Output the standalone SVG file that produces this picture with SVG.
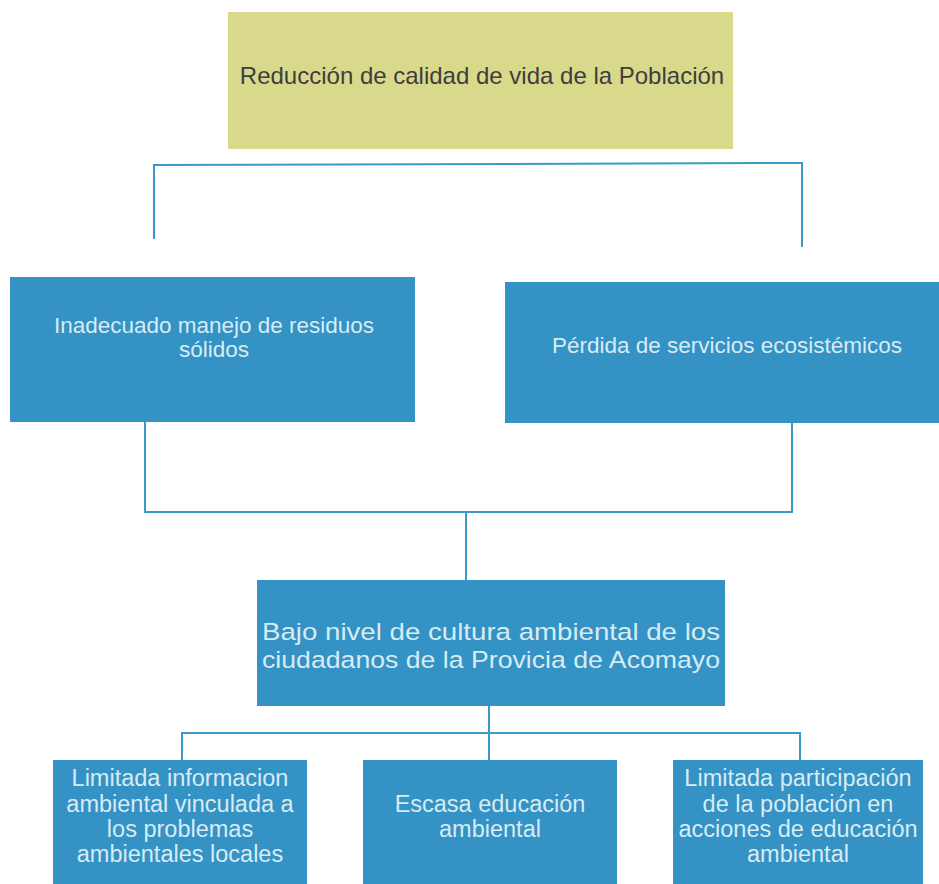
<svg xmlns="http://www.w3.org/2000/svg" width="939" height="884" viewBox="0 0 939 884">
<style>
.box{fill:#3592c4}
.top{fill:#d9d98c}
.lt{font-family:"Liberation Sans",Arial,sans-serif;fill:#d6ecf4;text-anchor:middle}
.dk{font-family:"Liberation Sans",Arial,sans-serif;fill:#3e3e3e;text-anchor:middle}
.con{stroke:#3a9bcb;stroke-width:2;fill:none}
</style>
<rect width="939" height="884" fill="#ffffff"/>
<g id="connectors">
<polyline class="con" points="154,239 154,165 802,163 802,247"/>
<polyline class="con" points="145,422 145,512 792,512 792,423"/>
<line class="con" x1="466" y1="512" x2="466" y2="580"/>
<line class="con" x1="489" y1="706" x2="489" y2="760"/>
<polyline class="con" points="182,760 182,733 800,733 800,760"/>
</g>
<g id="n-top">
<rect class="top" x="228" y="12" width="505" height="137"/>
<text class="dk" x="482" y="84" font-size="24">Reducción de calidad de vida de la Población</text>
</g>
<g id="n-residuos">
<rect class="box" x="10" y="277" width="405" height="145"/>
<text class="lt" x="214" y="333" font-size="22.5">Inadecuado manejo de residuos</text>
<text class="lt" x="214" y="357" font-size="22.5">sólidos</text>
</g>
<g id="n-servicios">
<rect class="box" x="505" y="282" width="450" height="141"/>
<text class="lt" x="727" y="353" font-size="22.5">Pérdida de servicios ecosistémicos</text>
</g>
<g id="n-bajo">
<rect class="box" x="257" y="580" width="468" height="126"/>
<text class="lt" x="491" y="640" font-size="24.5" textLength="458" lengthAdjust="spacingAndGlyphs">Bajo nivel de cultura ambiental de los</text>
<text class="lt" x="491" y="668" font-size="24.5" textLength="458" lengthAdjust="spacingAndGlyphs">ciudadanos de la Provicia de Acomayo</text>
</g>
<g id="n-info">
<rect class="box" x="53" y="760" width="254" height="124"/>
<text class="lt" x="180" y="786" font-size="23.5">Limitada informacion</text>
<text class="lt" x="180" y="812" font-size="23.5">ambiental vinculada a</text>
<text class="lt" x="180" y="837" font-size="23.5">los problemas</text>
<text class="lt" x="180" y="862" font-size="23.5">ambientales locales</text>
</g>
<g id="n-escasa">
<rect class="box" x="363" y="760" width="254" height="124"/>
<text class="lt" x="490" y="812" font-size="23.5">Escasa educación</text>
<text class="lt" x="490" y="837" font-size="23.5">ambiental</text>
</g>
<g id="n-participacion">
<rect class="box" x="673" y="760" width="250" height="124"/>
<text class="lt" x="798" y="786" font-size="23.5">Limitada participación</text>
<text class="lt" x="798" y="812" font-size="23.5">de la población en</text>
<text class="lt" x="798" y="837" font-size="23.5">acciones de educación</text>
<text class="lt" x="798" y="862" font-size="23.5">ambiental</text>
</g>
</svg>
